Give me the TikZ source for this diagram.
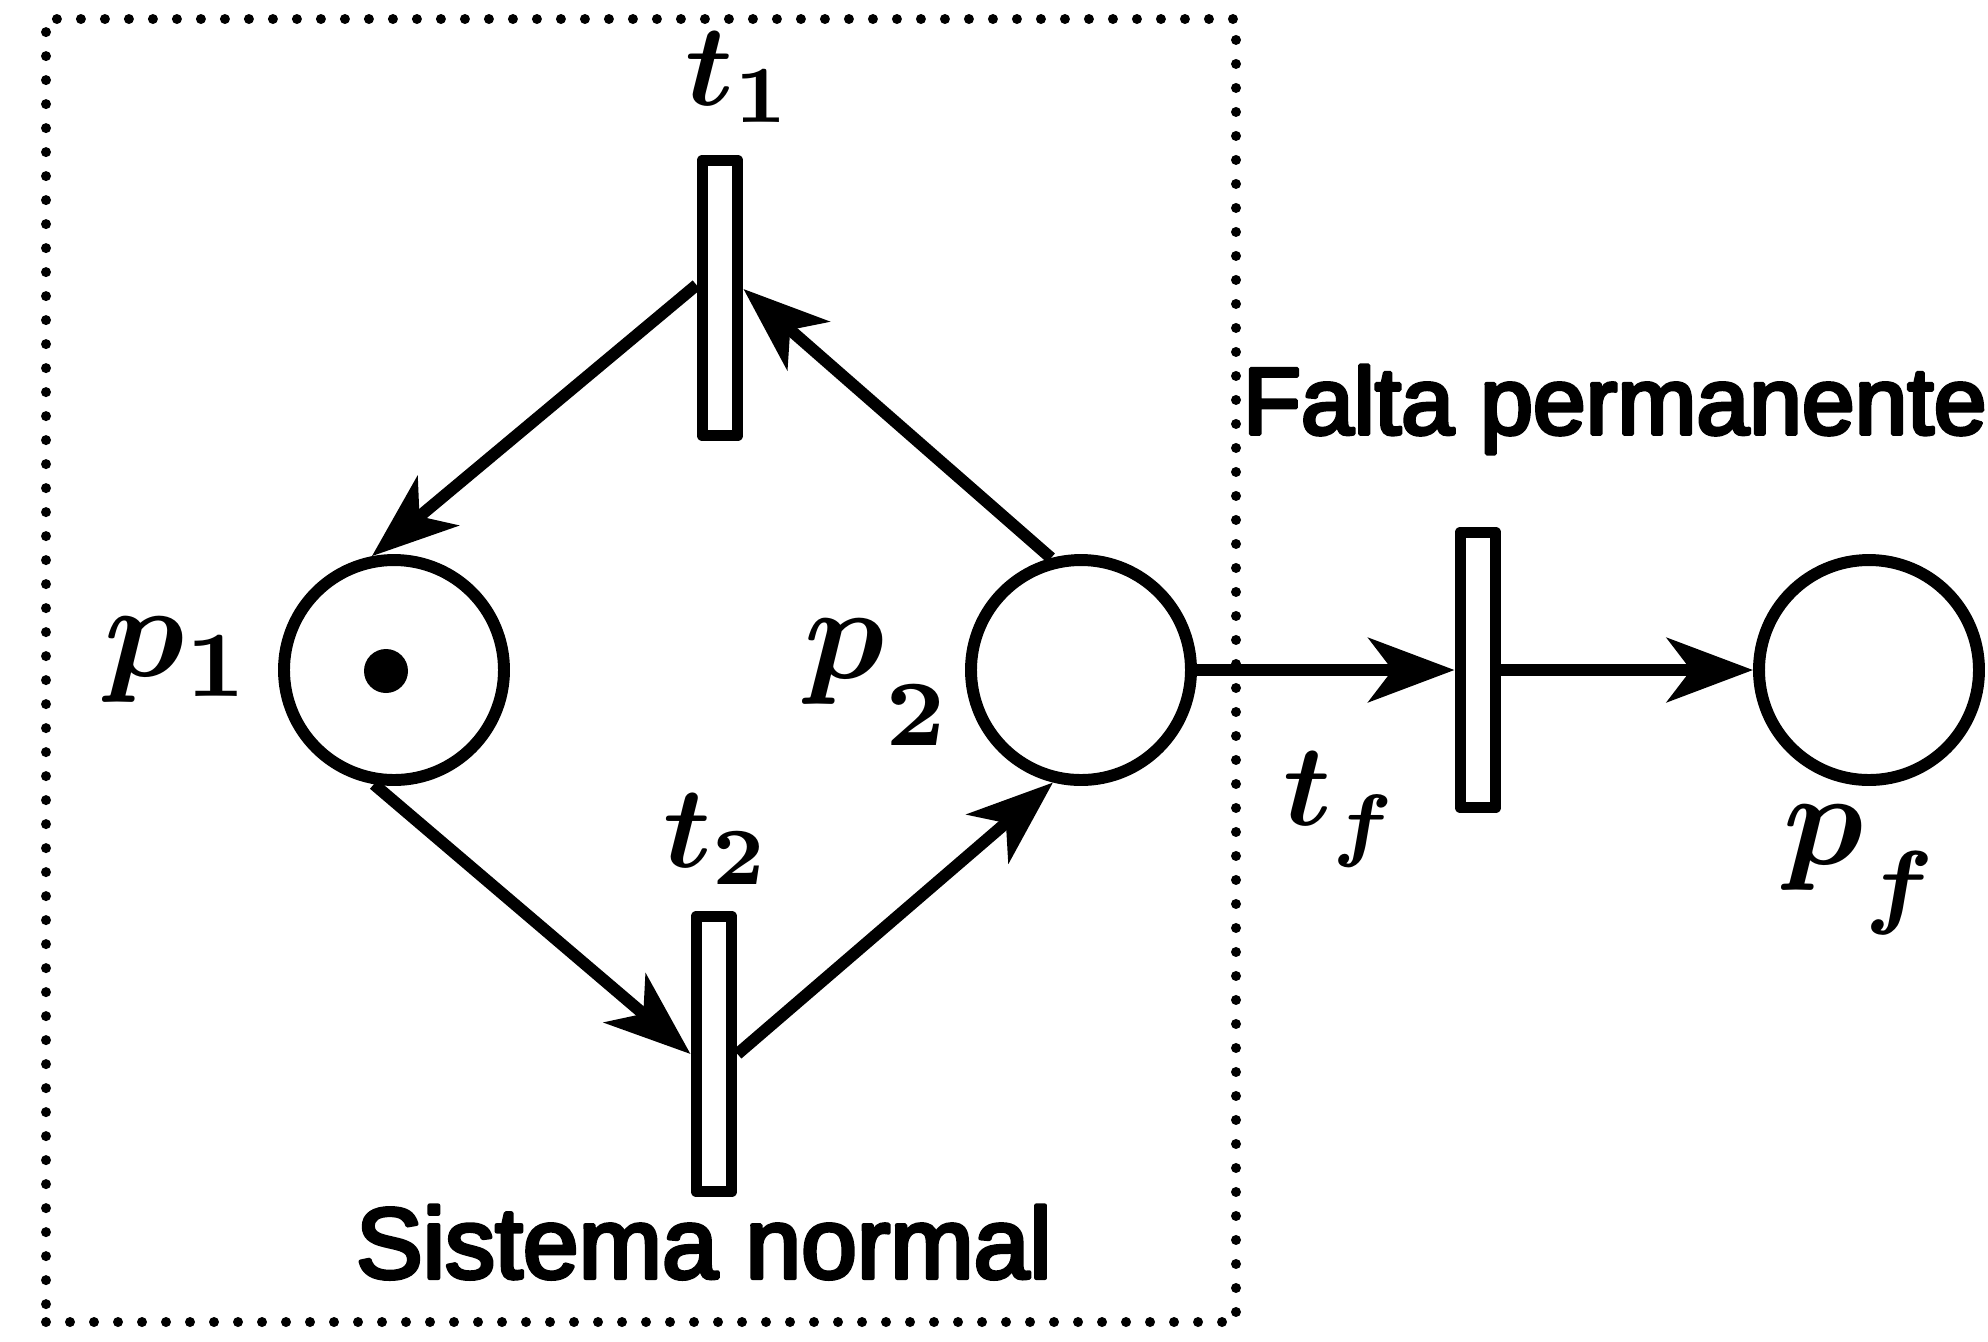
\documentclass[tikz,border=0pt]{standalone}
\usepackage{amsmath}
\usepackage{graphicx}
\usepackage{fontspec}
\newfontfamily\labelsans{Liberation Sans}[FakeBold=4]
\usetikzlibrary{arrows.meta}
\DeclareMathSizes{10}{10}{7.5}{5}
\newcommand{\lowsub}[2][.3em]{\lower#1\hbox{$\scriptstyle\boldsymbol{#2}$}}

\begin{document}
\begin{tikzpicture}[>={Stealth[length=8.6mm,width=6.4mm,inset=2.4mm]},
  line width=3.4pt,line join=round,
  placenode/.style={draw,circle,minimum size=2.2cm,inner sep=0pt},
  transnode/.style={draw,rectangle,minimum width=.35cm,
   minimum height=2.75cm,inner sep=0pt},
  tokennode/.style={circle,fill,minimum size=.44cm,inner sep=0pt},
  plabel/.style={anchor=base west,inner sep=0pt},
  textlabel/.style={anchor=base west,inner sep=0pt,
   font=\labelsans\fontsize{28.5}{34}\selectfont}]
 \useasboundingbox (0,0) rectangle (19.88,-13.41);
 % dotted frame round the normal system
 \node[draw,line width=.1cm,dash pattern=on 0pt off .24cm,line cap=round,
  minimum width=11.9cm,minimum height=13.03cm,inner sep=0pt]
  (normalsys) at (6.41,-6.705) {};
 % places and transitions
 \node[placenode] (p1) at (3.94,-6.70) {};
 \node[tokennode] (tok) at (3.86,-6.71) {};
 \node[placenode] (p2) at (10.81,-6.70) {};
 \node[placenode] (pf) at (18.69,-6.70) {};
 \node[transnode] (t1) at (7.20,-2.98) {};
 \node[transnode] (t2) at (7.14,-10.54) {};
 \node[transnode] (tf) at (14.78,-6.70) {};
 % arcs
 \draw[->] ([yshift=1.3mm]t1.west) -- (p1.101);
 \draw[->] (p2.105) -- ([yshift=.9mm]t1.east);
 \draw[->] (p1.260) -- (t2.west);
 \draw[->] (t2.east) -- (p2.256);
 \draw[->] (p2.east) -- (tf.west);
 \draw[->] (tf.east) -- (pf.west);
 % labels
 \node[plabel] (lp1) at (0.99,-6.76)
  {\scalebox{3.8}{$\boldsymbol{p_1}$}};
 \node[plabel] (lp2) at (7.99,-6.78)
  {\scalebox{3.8}{$\boldsymbol{p}_{\lowsub[.26em]{2}}$}};
 \node[plabel] (lpf) at (17.78,-8.64)
  {\scalebox{3.8}{$\boldsymbol{p}_{\lowsub[.15em]{f}}$}};
 \node[plabel] (lt1) at (6.80,-1.05)
  {\scalebox{3.3}{$\boldsymbol{t_1}$}};
 \node[plabel] (lt2) at (6.58,-8.67)
  {\scalebox{3.3}{$\boldsymbol{t_2}$}};
 \node[plabel] (ltf) at (12.78,-8.25)
  {\scalebox{3.3}{$\boldsymbol{t}_{\lowsub[.08em]{f}}$}};
 \node[textlabel] (sysname) at (3.50,-12.78) {Sistema normal};
 \node[textlabel,font=\labelsans\fontsize{27}{32}\selectfont]
  (faultname) at (12.37,-4.34) {Falta permanente};
\end{tikzpicture}
\end{document}
